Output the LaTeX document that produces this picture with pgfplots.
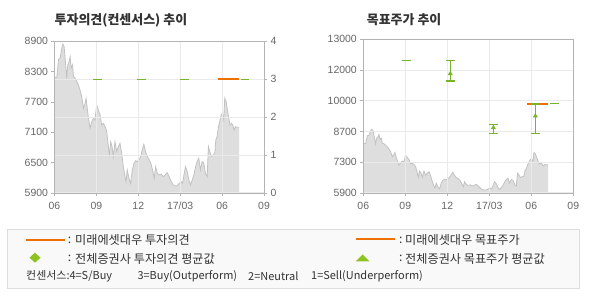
\documentclass[border=0pt]{standalone}
\usepackage{pgfplots}
\usepackage{pgfplotstable}
\pgfplotsset{compat=1.18}
\usepackage{fontspec}
\setmainfont{Liberation Sans}
\newfontfamily\kr{Noto Sans CJK KR}
\definecolor{areagray}{HTML}{DEDEDE}
\definecolor{linegray}{HTML}{C2C2C2}
\definecolor{gridgray}{HTML}{EAEAEA}
\definecolor{axisgray}{HTML}{B4B4B4}
\definecolor{labgray}{HTML}{666666}
\definecolor{txtgray}{HTML}{333333}
\definecolor{boxgray}{HTML}{DDDDDD}
\definecolor{boxfill}{HTML}{F9F9F9}
\definecolor{orng}{HTML}{EE7000}
\definecolor{grn}{HTML}{78B428}
\definecolor{grnl}{HTML}{8DC21F}

\pgfplotstableread{
m p
0.00 8188
0.17 8190
0.29 8544
0.40 8564
0.52 8762
0.60 8847
0.69 8795
0.76 8564
0.88 8168
0.95 8430
1.05 8498
1.12 8597
1.19 8366
1.29 8432
1.36 8201
1.48 8168
1.60 8102
1.71 8036
1.83 7937
1.95 7806
2.07 7575
2.19 7674
2.26 7773
2.36 7542
2.45 7344
2.55 7179
2.67 7311
2.79 7377
2.90 7344
3.02 7641
3.14 7542
3.26 7443
3.38 7245
3.50 7278
3.62 7212
3.74 7113
3.86 6817
3.93 6619
4.02 6916
4.12 6817
4.21 6619
4.33 6916
4.45 6718
4.57 6817
4.69 6883
4.81 6685
4.93 6421
5.05 6223
5.12 6124
5.21 6355
5.33 6190
5.45 6091
5.57 6355
5.69 6487
5.81 6540
5.93 6520
6.07 6566
6.17 6619
6.31 6784
6.40 6863
6.52 6718
6.64 6619
6.79 6553
6.90 6487
7.02 6355
7.14 6190
7.24 6421
7.36 6289
7.50 6256
7.64 6276
7.79 6223
7.93 6256
8.07 6302
8.21 6223
8.36 6124
8.50 6058
8.64 6038
8.79 6045
8.93 6091
9.07 6124
9.17 6091
9.29 6289
9.38 6421
9.50 6322
9.62 6157
9.74 6058
9.86 6157
9.98 6256
10.10 6421
10.21 6520
10.33 6586
10.45 6355
10.57 6520
10.69 6487
10.81 6289
10.93 6223
11.02 6817
11.12 6718
11.24 6619
11.36 6652
11.48 6685
11.55 6949
11.64 7014
11.74 7212
11.83 7311
11.93 7443
12.02 7476
12.12 7344
12.19 7773
12.29 7707
12.38 7542
12.48 7377
12.57 7245
12.67 7278
12.76 7245
12.86 7146
12.95 7212
13.07 7199
13.21 7199
}\price

\pgfplotsset{
  base/.style={
    scale only axis, anchor=south west,
    xmin=0, xmax=15,
    xtick={0,3,6,9,12,15},
    tick align=outside, major tick length=3bp,
    axis line style={draw=axisgray, line width=0.8bp},
    tick style={draw=axisgray, line width=0.8bp},
    tick label style={font=\fontsize{10.5}{12}\selectfont, text=labgray},
    xticklabel style={yshift=-2.5bp},
    /pgf/number format/assume math mode=true,
    /pgf/number format/1000 sep={},
    scaled y ticks=false,
    clip=false,
  },
  gridded/.style={
    grid=major, grid style={draw=gridgray, line width=1bp},
  },
}

\begin{document}
\begin{tikzpicture}
\fill[white] (0,0) rectangle (590bp,300bp);
\useasboundingbox (0,0) rectangle (590bp,300bp);

% ---------- Left chart ----------
\node[anchor=west, inner sep=0, font=\kr\bfseries\fontsize{13}{15}\selectfont, text=txtgray] at (54.5bp,279.3bp) {투자의견(컨센서스) 추이};

\begin{axis}[base, at={(54.5bp,107bp)}, width=209.5bp, height=151.7bp,
  ymin=5900, ymax=8900, ytick={5900,6500,7100,7700,8300,8900},
  xticklabels={06,09,12,17/03,06,09},
  ytick pos=left, xtick pos=bottom]
\addplot[fill=areagray, draw=none] table {\price} \closedcycle;
\addplot[draw=linegray, line width=0.8bp] table {\price};
\end{axis}

\begin{axis}[base, gridded, at={(54.5bp,107bp)}, width=209.5bp, height=151.7bp,
  ymin=0, ymax=4, ytick={0,1,2,3,4},
  xticklabels={}, ytick pos=right, xtick pos=bottom]
\addplot[grn, line width=1.2bp] coordinates {(2.76,3) (3.38,3)};
\addplot[grn, line width=1.2bp] coordinates {(5.90,3) (6.52,3)};
\addplot[grn, line width=1.2bp] coordinates {(8.98,3) (9.60,3)};
\addplot[grn, line width=1.2bp] coordinates {(13.33,3) (13.95,3)};
\addplot[orng, line width=2.2bp] coordinates {(11.69,3) (13.19,3)};
\end{axis}

% ---------- Right chart ----------
\node[anchor=west, inner sep=0, font=\kr\bfseries\fontsize{13}{15}\selectfont, text=txtgray] at (366.7bp,280bp) {목표주가 추이};

\begin{axis}[base, at={(363.3bp,107bp)}, width=210bp, height=153.7bp,
  ymin=5900, ymax=13000, hide axis]
\addplot[fill=areagray, draw=none] table {\price} \closedcycle;
\addplot[draw=linegray, line width=0.8bp] table {\price};
\end{axis}

\begin{axis}[base, gridded, at={(363.3bp,107bp)}, width=210bp, height=153.7bp,
  ymin=5900, ymax=13000,
  ytick={5900,7320,8740,10160,11580,13000},
  yticklabels={5900,7300,8700,10000,12000,13000},
  xticklabels={06,09,12,17/03,06,09},
  ytick pos=left, xtick pos=bottom]
\addplot[grn, line width=1.2bp] coordinates {(2.74,12030) (3.38,12030)};
\addplot[grn, line width=1.2bp] coordinates {(13.33,10043) (13.98,10043)};
\addplot[orng, line width=2.2bp] coordinates {(11.69,10012) (13.17,10012)};
\addplot[grn, only marks, mark=triangle*, mark size=2.4bp,
  error bars/.cd, y dir=both, y explicit,
  error bar style={grn, line width=1.2bp},
  error mark options={grn, rotate=90, mark size=4.7bp, line width=1.2bp}]
  coordinates {
   (6.21,11414) += (0,616) -= (0,339)
   (9.29,8919) += (0,154) -= (0,262)
   (12.29,9458) += (0,554) -= (0,801)
  };
\end{axis}

% ---------- Legend ----------
\draw[draw=boxgray, fill=boxfill, line width=0.9bp] (7.3bp,71bp) rectangle (579bp,12bp);
\begin{scope}[font=\kr\fontsize{12.2}{14}\selectfont, text=txtgray]
\draw[orng, line width=1.7bp] (26bp,60.3bp) -- (65bp,60.3bp);
\node[anchor=west, inner sep=0] at (67.6bp,59.7bp) {:};
\node[anchor=west, inner sep=0] at (75bp,59.7bp) {미래에셋대우 투자의견};
\draw[orng, line width=1.7bp] (356bp,61bp) -- (395bp,61bp);
\node[anchor=west, inner sep=0] at (399bp,59.7bp) {:};
\node[anchor=west, inner sep=0] at (405bp,59.7bp) {미래에셋대우 목표주가};
\fill[grnl] (35bp,47.3bp) -- (40.5bp,42.3bp) -- (35bp,37.3bp) -- (29.5bp,42.3bp) -- cycle;
\node[anchor=west, inner sep=0] at (67.6bp,41.2bp) {:};
\node[anchor=west, inner sep=0] at (75bp,41.2bp) {전체증권사 투자의견 평균값};
\fill[grnl] (355.7bp,38.5bp) -- (369.7bp,38.5bp) -- (362.7bp,45.5bp) -- cycle;
\node[anchor=west, inner sep=0] at (399bp,41.2bp) {:};
\node[anchor=west, inner sep=0] at (405bp,41.2bp) {전체증권사 목표주가 평균값};
\end{scope}
\begin{scope}[font=\kr\fontsize{11}{13}\selectfont, text=txtgray]
\node[anchor=west, inner sep=0] at (26bp,23.3bp) {컨센서스:4=S/Buy};
\node[anchor=west, inner sep=0] at (137.3bp,23.3bp) {3=Buy(Outperform)};
\node[anchor=west, inner sep=0] at (248bp,23.3bp) {2=Neutral};
\node[anchor=west, inner sep=0] at (311bp,23.3bp) {1=Sell(Underperform)};
\end{scope}
\end{tikzpicture}
\end{document}
